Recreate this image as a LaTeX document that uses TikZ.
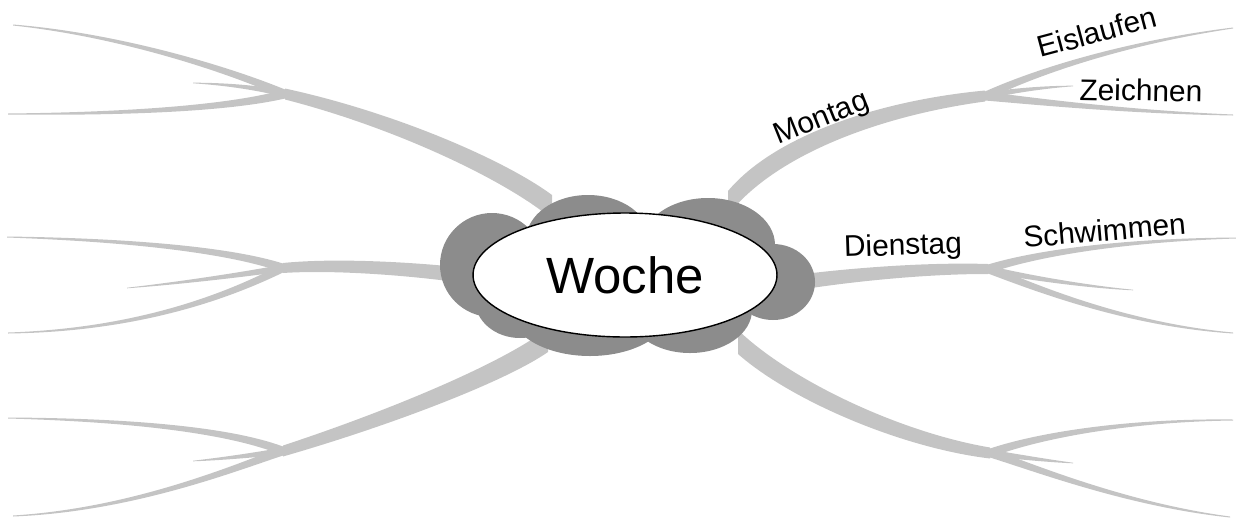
\documentclass[tikz,border=0pt]{standalone}
\usepackage{fontspec}
\setmainfont{Liberation Sans}
\usetikzlibrary{calc,shapes.geometric}

\definecolor{astgrau}{gray}{0.77}
\definecolor{wolkengrau}{gray}{0.55}

\tikzset{
  ast/.style={fill=astgrau},
  wolke/.style={fill=wolkengrau},
  wort/.style={inner sep=0pt, anchor=base west, font=\fontsize{17}{20}\selectfont},
}

% tapered branch: from, control 1, control 2, to, half width at start, half width at end
\newcommand{\zweig}[6]{%
  \fill[ast] ($(#1)+(0,#5)$) .. controls ($(#2)+(0,{(2*#5+#6)/3})$) and ($(#3)+(0,{(#5+2*#6)/3})$) .. ($(#4)+(0,#6)$)
    -- ($(#4)-(0,#6)$) .. controls ($(#3)-(0,{(#5+2*#6)/3})$) and ($(#2)-(0,{(2*#5+#6)/3})$) .. ($(#1)-(0,#5)$) -- cycle;}

\begin{document}
\begin{tikzpicture}[x=0.02cm,y=-0.02cm]
\useasboundingbox (0,0) rectangle (1236,518);

% start points at the cloud
\coordinate (wol) at (552,207);
\coordinate (wml) at (452,274);
\coordinate (wul) at (548,340);
\coordinate (wor) at (728,203);
\coordinate (wmr) at (808,281);
\coordinate (wur) at (738,342);
% forks
\coordinate (ol) at (285,94);
\coordinate (ml) at (283,268);
\coordinate (ul) at (283,451);
\coordinate (or) at (985,96);
\coordinate (mr) at (988,269);
\coordinate (ur) at (990,453);
% free ends
\coordinate (ol1) at (13,25);   \coordinate (ol2) at (193,83);   \coordinate (ol3) at (8,114);
\coordinate (ml1) at (7,237);   \coordinate (ml2) at (127,288);  \coordinate (ml3) at (8,333);
\coordinate (ul1) at (8,418);   \coordinate (ul2) at (193,461);  \coordinate (ul3) at (13,516);
\coordinate (or1) at (1233,28); \coordinate (or2) at (1073,86);  \coordinate (or3) at (1233,115);
\coordinate (mr1) at (1236,238);\coordinate (mr2) at (1133,290); \coordinate (mr3) at (1233,333);
\coordinate (ur1) at (1233,420);\coordinate (ur2) at (1073,463); \coordinate (ur3) at (1230,517);

% main branches
\zweig{wol}{505,170}{395,120}{ol}{12}{5.5}
\zweig{wml}{400,268}{330,264}{ml}{7.5}{5}
\zweig{wul}{505,372}{390,418}{ul}{12}{5.5}
\zweig{wor}{775,145}{880,108}{or}{12}{5.5}
\zweig{wmr}{860,274}{930,268}{mr}{7.5}{5}
\zweig{wur}{790,390}{900,440}{ur}{12}{5.5}

% small branches
\zweig{ol}{230,70}{120,35}{ol1}{4.5}{0.5}
\zweig{ol}{260,88}{225,84}{ol2}{3.5}{0.3}
\zweig{ol}{230,108}{130,114}{ol3}{4.5}{0.5}
\zweig{ml}{230,250}{130,240}{ml1}{4.5}{0.5}
\zweig{ml}{240,275}{180,283}{ml2}{3.5}{0.3}
\zweig{ml}{230,295}{140,330}{ml3}{4.5}{0.5}
\zweig{ul}{230,430}{130,420}{ul1}{4.5}{0.5}
\zweig{ul}{255,455}{220,459}{ul2}{3.5}{0.3}
\zweig{ul}{230,470}{130,510}{ul3}{4.5}{0.5}
\zweig{or}{1040,70}{1130,42}{or1}{4.5}{0.5}
\zweig{or}{1010,91}{1045,87}{or2}{3.5}{0.3}
\zweig{or}{1040,102}{1130,112}{or3}{4.5}{0.5}
\zweig{mr}{1040,252}{1130,240}{mr1}{4.5}{0.5}
\zweig{mr}{1030,278}{1090,287}{mr2}{3.5}{0.3}
\zweig{mr}{1040,290}{1130,325}{mr3}{4.5}{0.5}
\zweig{ur}{1040,435}{1130,420}{ur1}{4.5}{0.5}
\zweig{ur}{1020,457}{1050,461}{ur2}{3.5}{0.3}
\zweig{ur}{1040,470}{1130,505}{ur3}{4.5}{0.5}

% cloud
\fill[wolke] (492,265) ellipse [x radius=52, y radius=52];
\fill[wolke] (588,240) ellipse [x radius=62, y radius=45];
\fill[wolke] (708,245) ellipse [x radius=67, y radius=47];
\fill[wolke] (773,282) ellipse [x radius=42, y radius=38];
\fill[wolke] (590,310) ellipse [x radius=80, y radius=46];
\fill[wolke] (690,310) ellipse [x radius=62, y radius=43];
\fill[wolke] (520,300) ellipse [x radius=45, y radius=38];
\fill[wolke] (625,277) ellipse [x radius=150, y radius=60];

\node[ellipse, draw, fill=white, line width=0.8pt, inner sep=0pt,
  minimum width=6.08cm, minimum height=2.48cm,
  font=\fontsize{29}{34}\selectfont] (woche) at (625,275) {Woche};

% labels
\node[wort, rotate=22] (montag) at (778,145) {Montag};
\node[wort, rotate=15] (eislaufen) at (1040,58) {Eislaufen};
\node[wort, rotate=-1] (zeichnen) at (1079,100) {Zeichnen};
\node[wort, rotate=2] (dienstag) at (844,257) {Dienstag};
\node[wort, rotate=5] (schwimmen) at (1024,248) {Schwimmen};
\end{tikzpicture}
\end{document}
